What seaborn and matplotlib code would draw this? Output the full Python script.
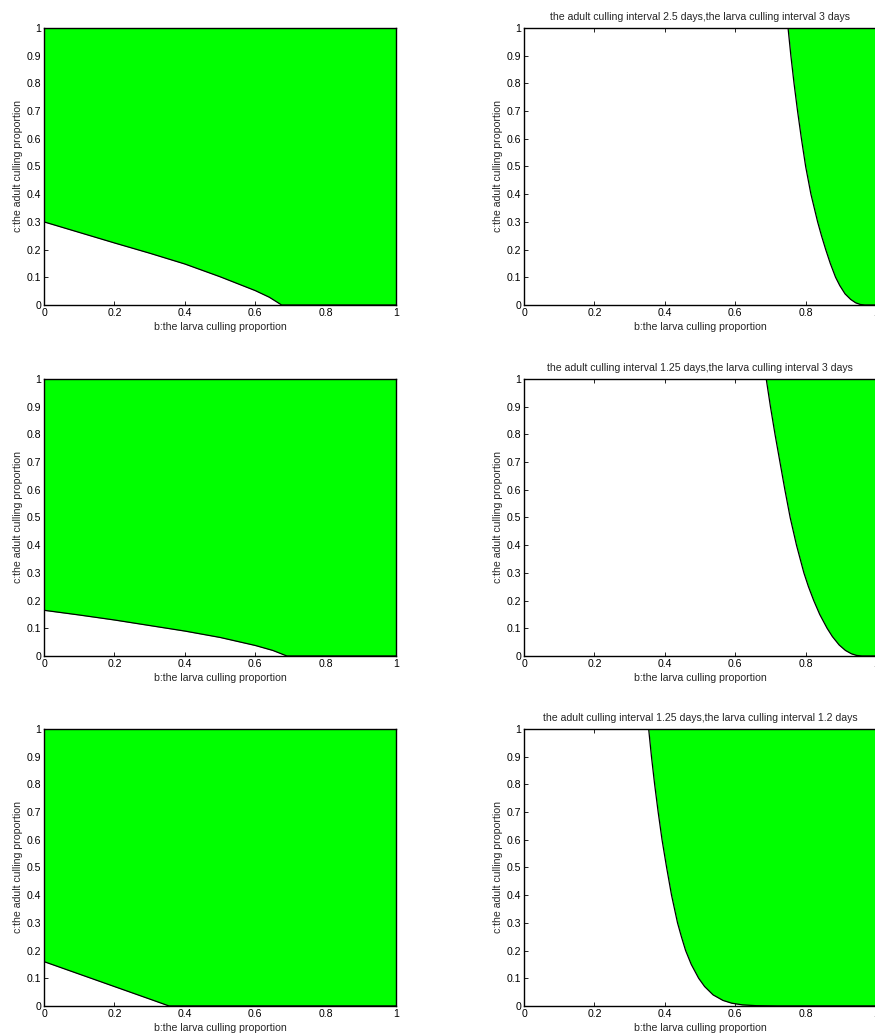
import numpy as np
import pandas as pd
import matplotlib
matplotlib.use("Agg")
import matplotlib.pyplot as plt
import seaborn as sns

sns.set_style("ticks")
plt.rcParams['font.family'] = ['Liberation Sans', 'DejaVu Sans']

# boundary curves (b: larva proportion, c: adult proportion)
b_left1 = [0.0, 0.1, 0.2, 0.3, 0.4, 0.5, 0.55, 0.6, 0.64, 0.675, 1.0]
c_left1 = [0.30, 0.262, 0.224, 0.187, 0.148, 0.102, 0.077, 0.052, 0.028, 0.0, 0.0]
b_left2 = [0.0, 0.1, 0.2, 0.3, 0.4, 0.5, 0.6, 0.65, 0.69, 1.0]
c_left2 = [0.165, 0.148, 0.13, 0.11, 0.09, 0.067, 0.038, 0.02, 0.0, 0.0]
b_left3 = [0.0, 0.1, 0.2, 0.3, 0.355, 1.0]
c_left3 = [0.16, 0.115, 0.07, 0.025, 0.0, 0.0]

b_right1 = [0.750, 0.758, 0.767, 0.777, 0.788, 0.800, 0.815, 0.834, 0.845, 0.857,
            0.870, 0.885, 0.897, 0.912, 0.928, 0.942, 0.955, 0.968, 1.0]
c_right1 = [1.0, 0.9, 0.8, 0.7, 0.6, 0.5, 0.4, 0.3, 0.25, 0.2,
            0.15, 0.1, 0.07, 0.04, 0.02, 0.008, 0.002, 0.0, 0.0]
b_right2 = [0.688, 0.700, 0.713, 0.727, 0.741, 0.756, 0.774, 0.795, 0.808, 0.823,
            0.840, 0.861, 0.876, 0.895, 0.913, 0.930, 0.945, 0.960, 1.0]
c_right2 = [1.0, 0.9, 0.8, 0.7, 0.6, 0.5, 0.4, 0.3, 0.25, 0.2,
            0.15, 0.1, 0.07, 0.04, 0.02, 0.008, 0.002, 0.0, 0.0]
b_right3 = [0.354, 0.362, 0.371, 0.381, 0.392, 0.405, 0.419, 0.436, 0.447, 0.459,
            0.475, 0.496, 0.513, 0.537, 0.565, 0.590, 0.620, 0.660, 0.720, 1.0]
c_right3 = [1.0, 0.9, 0.8, 0.7, 0.6, 0.5, 0.4, 0.3, 0.25, 0.2,
            0.15, 0.1, 0.07, 0.04, 0.02, 0.01, 0.004, 0.001, 0.0, 0.0]

titles = [None,
          "the adult culling interval 2.5 days,the larva culling interval 3 days",
          None,
          "the adult culling interval 1.25 days,the larva culling interval 3 days",
          None,
          "the adult culling interval 1.25 days,the larva culling interval 1.2 days"]

curves = [(b_left1, c_left1), (b_right1, c_right1),
          (b_left2, c_left2), (b_right2, c_right2),
          (b_left3, c_left3), (b_right3, c_right3)]

fig = plt.figure(figsize=(8.75, 10.36), dpi=100)
lefts = [0.0503, 0.5989]
bottoms = [0.7056, 0.3668, 0.0290]
w, h = 0.4023, 0.2674

ticks = [0, 0.2, 0.4, 0.6, 0.8, 1]
ytks = [0, 0.1, 0.2, 0.3, 0.4, 0.5, 0.6, 0.7, 0.8, 0.9, 1]
fs = 7.6

for i, (bb, cc) in enumerate(curves):
    row, col = divmod(i, 2)
    ax = fig.add_axes([lefts[col], bottoms[row], w, h])
    df = pd.DataFrame({"b": bb, "c": cc})
    ax.fill_between(df["b"], df["c"], 1, color="#00ff00", linewidth=0)
    sns.lineplot(data=df, x="b", y="c", ax=ax, color="black", linewidth=0.9, sort=False)
    ax.set_xlim(0, 1)
    ax.set_ylim(0, 1)
    ax.set_xticks(ticks)
    ax.set_xticklabels(["0", "0.2", "0.4", "0.6", "0.8", "1"])
    ax.set_yticks(ytks)
    ax.set_yticklabels(["0", "0.1", "0.2", "0.3", "0.4", "0.5", "0.6", "0.7", "0.8", "0.9", "1"])
    ax.tick_params(direction="in", top=True, right=True, length=3, width=0.6,
                   labelsize=fs, pad=2, colors="black")
    for sp in ax.spines.values():
        sp.set_linewidth(1.0)
        sp.set_color("black")
    ax.set_xlabel("b:the larva culling proportion", fontsize=fs, labelpad=3)
    ax.set_ylabel("c:the adult culling proportion", fontsize=fs, labelpad=3)
    if titles[i]:
        ax.set_title(titles[i], fontsize=fs, pad=6)

fig.savefig("out.png", dpi=100)
